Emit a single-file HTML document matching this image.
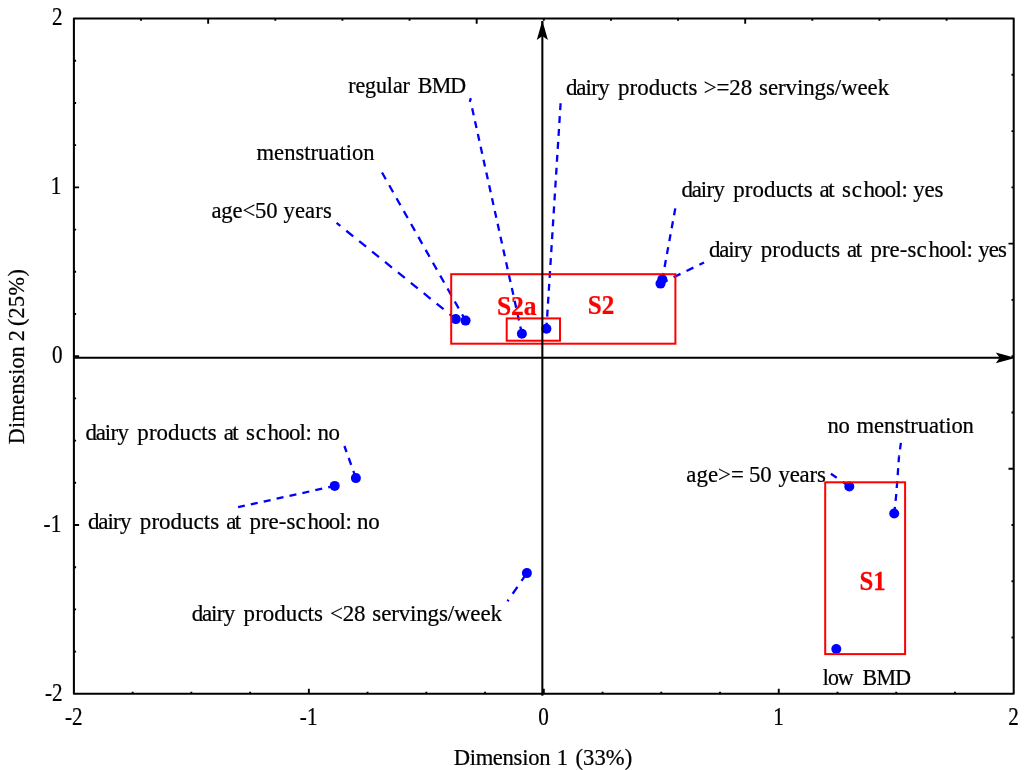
<!DOCTYPE html>
<html lang="en">
<head>
<meta charset="utf-8">
<title>Correspondence analysis: Dimension 1 vs Dimension 2</title>
<style>
html,body{margin:0;padding:0;background:#fff;}
body{width:1024px;height:770px;overflow:hidden;}
svg{display:block;}
text{font-family:"Liberation Serif","Times New Roman",Times,serif;font-size:22px;fill:#000;stroke:#000;stroke-width:0.22px;}
.grp{font-weight:bold;fill:#ff0000;stroke:#ff0000;stroke-width:0.2px;}
.lead{stroke:#0000ff;stroke-width:2.3;fill:none;}
.box{stroke:#ff0000;stroke-width:2;fill:none;}
.pt{fill:#0000ff;}
.ax{stroke:#000;stroke-width:2.05;fill:none;stroke-linejoin:round;}
.tk{stroke:#000;stroke-width:1.9;fill:none;}
</style>
</head>
<body>
<svg width="1024" height="770" viewBox="0 0 1024 770">
<rect x="0" y="0" width="1024" height="770" fill="#ffffff"/>
<path class="lead" d="M470.85 98.2L469.75 101.9"/>
<path class="lead" d="M471.0 103.0L521.9 333.75" stroke-dasharray="7.03 6.11" stroke-dashoffset="7.69"/>
<path class="lead" d="M382.0 172.5L465.6 320.6" stroke-dasharray="7.93 6.89" stroke-dashoffset="0.12"/>
<path class="lead" d="M336.6 222.9L455.8 319.1" stroke-dasharray="8.87 7.71" stroke-dashoffset="4.11"/>
<path class="lead" d="M560.6 103.2L546.4 328.75" stroke-dasharray="6.92 6.01" stroke-dashoffset="0.00"/>
<path class="lead" d="M675.3 208.4L662.3 279.4" stroke-dasharray="7.02 6.10" stroke-dashoffset="0.00"/>
<path class="lead" d="M704 262.5L660.5 283.6" stroke-dasharray="7.67 6.67" stroke-dashoffset="2.56"/>
<path class="lead" d="M344.4 446L355.9 478.1" stroke-dasharray="7.33 6.37" stroke-dashoffset="0.96"/>
<path class="lead" d="M238.1 507.2L334.7 485.9" stroke-dasharray="7.07 6.14" stroke-dashoffset="0.21"/>
<path class="lead" d="M507.5 601.25L526.9 573.1" stroke-dasharray="8.38 7.29" stroke-dashoffset="6.56"/>
<path class="lead" d="M900.9 442.9L899.0 456.4" stroke-dasharray="6.97 6.06" stroke-dashoffset="0.51"/>
<path class="lead" d="M899.0 456.4L897.5 478" stroke-dasharray="6.92 6.01" stroke-dashoffset="1.10"/>
<path class="lead" d="M897.5 478L896.0 497" stroke-dasharray="6.92 6.02" stroke-dashoffset="9.83"/>
<path class="lead" d="M896.0 497L894.2 513.5" stroke-dasharray="6.94 6.03" stroke-dashoffset="3.02"/>
<path class="lead" d="M830.9 473.7L849.3 486.5" stroke-dasharray="8.41 7.31" stroke-dashoffset="1.34"/>
<circle class="pt" cx="455.8" cy="319.1" r="5"/>
<circle class="pt" cx="465.6" cy="320.6" r="5"/>
<circle class="pt" cx="521.9" cy="333.75" r="5"/>
<circle class="pt" cx="546.4" cy="328.75" r="5"/>
<circle class="pt" cx="662.3" cy="279.4" r="5"/>
<circle class="pt" cx="660.5" cy="283.6" r="5"/>
<circle class="pt" cx="355.9" cy="478.1" r="5"/>
<circle class="pt" cx="334.7" cy="485.9" r="5"/>
<circle class="pt" cx="526.9" cy="573.1" r="5"/>
<circle class="pt" cx="849.3" cy="486.5" r="5"/>
<circle class="pt" cx="894.2" cy="513.5" r="5"/>
<circle class="pt" cx="836.3" cy="649.0" r="5"/>
<rect class="box" x="451.2" y="274.2" width="224.20" height="69.50"/>
<rect class="box" x="506.7" y="318.4" width="53.30" height="22.30"/>
<rect class="box" x="825.2" y="482.3" width="79.90" height="171.80"/>
<text class="grp" transform="translate(496.90 315.00) scale(1.1595 1.2273)">S2a</text>
<text class="grp" transform="translate(587.73 313.60) scale(1.1387 1.2273)">S2</text>
<text class="grp" transform="translate(859.44 590.20) scale(1.1241 1.2636)">S1</text>
<rect class="ax" x="73.9" y="18.55" width="939.80" height="675.28"/>
<path class="tk" d="M132.64 693.83v-2.2 M191.38 693.83v-2.2 M250.11 693.83v-2.2 M308.85 693.83v-5.2 M367.59 693.83v-2.2 M426.33 693.83v-2.2 M485.06 693.83v-2.2 M543.80 693.83v-5.2 M602.54 693.83v-2.2 M661.27 693.83v-2.2 M720.01 693.83v-2.2 M778.75 693.83v-5.2 M837.49 693.83v-2.2 M896.23 693.83v-2.2 M954.96 693.83v-2.2 M73.90 60.76h2.2 M73.90 102.96h2.2 M73.90 145.17h2.2 M73.90 187.37h5.2 M73.90 229.58h2.2 M73.90 271.78h2.2 M73.90 313.99h2.2 M73.90 356.19h5.2 M73.90 398.40h2.2 M73.90 440.60h2.2 M73.90 482.81h2.2 M73.90 525.01h5.2 M73.90 567.22h2.2 M73.90 609.42h2.2 M73.90 651.62h2.2 M141.03 18.55v2.2 M208.16 18.55v5.2 M275.29 18.55v2.2 M342.41 18.55v2.2 M409.54 18.55v2.2 M476.67 18.55v5.2 M543.80 18.55v2.2 M610.93 18.55v2.2 M678.06 18.55v2.2 M745.19 18.55v5.2 M812.31 18.55v2.2 M879.44 18.55v2.2 M946.57 18.55v2.2 M1013.70 74.82h-2.2 M1013.70 131.10h-2.2 M1013.70 187.37h-2.2 M1013.70 243.64h-5.2 M1013.70 299.92h-2.2 M1013.70 356.19h-2.2 M1013.70 412.46h-2.2 M1013.70 468.74h-5.2 M1013.70 525.01h-2.2 M1013.70 581.28h-2.2 M1013.70 637.56h-2.2"/>
<path class="ax" d="M542.35 695.83 V32 M73.9 357.8 H1002"/>
<path fill="#000" d="M541.25 20.9 H543.45 L543.65 25 L547.90 39.9 L542.35 36 L536.80 39.9 L541.05 25 Z"/>
<path fill="#000" d="M1013.1 357.20 V358.40 L995.8 363.20 L999.7 357.8 L995.8 352.40 Z"/>
<text transform="translate(348.60 92.90) scale(1.0000 1.0227)" x="-0.44 6.81 16.48 27.36 38.25 44.30 53.96 63.66 69.16 83.06 101.59">regular BMD</text>
<text transform="translate(257.00 160.30) scale(1.0274 1.0227)" x="-0.46 16.65 26.42 37.42 45.98 52.09 59.42 70.42 80.18 86.29 92.40 103.40">menstruation</text>
<text transform="translate(212.20 217.50) scale(1.0296 1.0409)" x="-0.77 8.85 19.69 29.32 41.54 52.39 63.77 69.27 80.39 90.25 100.12 107.52">age&lt;50 years</text>
<text transform="translate(566.90 95.40) scale(1.0416 1.0409)" x="-0.79 9.10 17.89 23.39 29.99 43.59 49.09 60.15 67.52 78.58 89.64 100.70 110.52 116.66 125.78 131.28 143.60 155.91 166.83 178.99 184.49 192.98 202.66 209.92 220.82 226.88 237.79 248.69 257.18 263.24 278.98 288.66 298.34">dairy products &gt;=28 servings/week</text>
<text transform="translate(682.20 196.90) scale(1.0407 1.0227)" x="-0.79 9.12 17.91 23.42 30.02 43.63 49.13 60.20 67.58 78.65 89.72 100.79 110.62 116.77 126.53 132.03 140.37 148.02 153.52 162.92 174.24 184.49 194.74 204.99 210.68 216.50 222.00 232.79 242.37">dairy products at school: yes</text>
<text transform="translate(709.70 257.30) scale(1.0378 1.0227)" x="-0.79 9.15 17.98 23.51 30.13 43.77 49.27 60.37 67.77 78.87 89.98 101.08 110.94 117.11 126.89 132.39 140.77 149.33 154.83 165.93 173.33 183.19 190.59 199.23 210.80 221.08 231.36 241.64 247.35 253.33 258.83 268.87 277.78">dairy products at pre-school: yes</text>
<text transform="translate(86.25 440.20) scale(1.0416 1.0227)" x="-0.79 9.10 17.89 23.39 29.99 43.59 49.09 60.15 67.52 78.58 89.64 100.70 110.52 116.66 126.41 131.91 140.24 147.89 153.39 162.77 174.09 184.33 194.57 204.81 210.49 216.50 222.00 232.60">dairy products at school: no</text>
<text transform="translate(88.75 528.60) scale(1.0425 1.0227)" x="-0.79 9.09 17.87 23.36 29.95 43.55 49.05 60.10 67.45 78.50 89.55 100.60 110.41 116.55 126.29 131.79 140.11 148.63 154.13 165.18 172.54 182.34 189.70 198.30 209.86 220.09 230.31 240.54 246.22 251.93 257.43 268.02">dairy products at pre-school: no</text>
<text transform="translate(192.50 621.40) scale(1.0420 1.0409)" x="-0.79 9.10 17.88 23.38 29.97 43.57 49.07 60.13 67.49 78.54 89.60 100.66 110.47 116.61 126.42 131.92 144.21 155.10 167.11 172.61 181.06 190.70 197.92 208.78 214.81 225.66 236.51 244.96 250.99 266.67 276.30 285.94">dairy products &lt;28 servings/week</text>
<text transform="translate(828.10 432.80) scale(1.0281 1.0227)" x="-0.50 10.07 22.15 27.65 44.65 54.36 65.29 73.80 79.87 87.15 98.08 107.78 113.86 119.93 130.86">no menstruation</text>
<text transform="translate(687.00 482.30) scale(1.0361 1.0409)" x="-0.77 9.07 20.17 30.01 42.52 54.32 59.82 70.81 82.79 88.29 99.08 108.66 118.24 125.43">age&gt;= 50 years</text>
<text transform="translate(823.20 685.20) scale(0.9954 1.0227)" x="-0.44 4.91 14.55 33.95 39.45 53.53 72.29">low BMD</text>
<text transform="translate(73.70 725.1) scale(0.96 1.1091)" text-anchor="middle">-2</text>
<text transform="translate(308.65 725.1) scale(0.96 1.1091)" text-anchor="middle">-1</text>
<text transform="translate(543.60 725.1) scale(0.96 1.1091)" text-anchor="middle">0</text>
<text transform="translate(778.55 725.1) scale(0.96 1.1091)" text-anchor="middle">1</text>
<text transform="translate(1013.50 725.1) scale(0.96 1.1091)" text-anchor="middle">2</text>
<text transform="translate(62.6 25.45) scale(0.96 1.1091)" text-anchor="end">2</text>
<text transform="translate(61.2 194.27) scale(0.96 1.1091)" text-anchor="end">1</text>
<text transform="translate(62.6 363.09) scale(0.96 1.1091)" text-anchor="end">0</text>
<text transform="translate(61.2 531.91) scale(0.96 1.1091)" text-anchor="end">-1</text>
<text transform="translate(62.6 700.73) scale(0.96 1.1091)" text-anchor="end">-2</text>
<text transform="translate(454.50 764.80) scale(1.0289 1.0545)" x="-0.63 14.78 20.70 37.30 46.77 57.44 65.75 71.67 82.34 93.83 99.33 112.01 117.51 124.90 135.99 147.09 165.57">Dimension 1 (33%)</text>
<text transform="translate(23.90 443.50) rotate(-90) scale(1.0080 1.0409)" x="-0.63 15.34 21.48 38.68 48.50 59.56 68.16 74.31 85.37 96.02 101.52 111.10 116.60 124.12 135.43 146.73 165.57">Dimension 2 (25%)</text>
</svg>
</body>
</html>
